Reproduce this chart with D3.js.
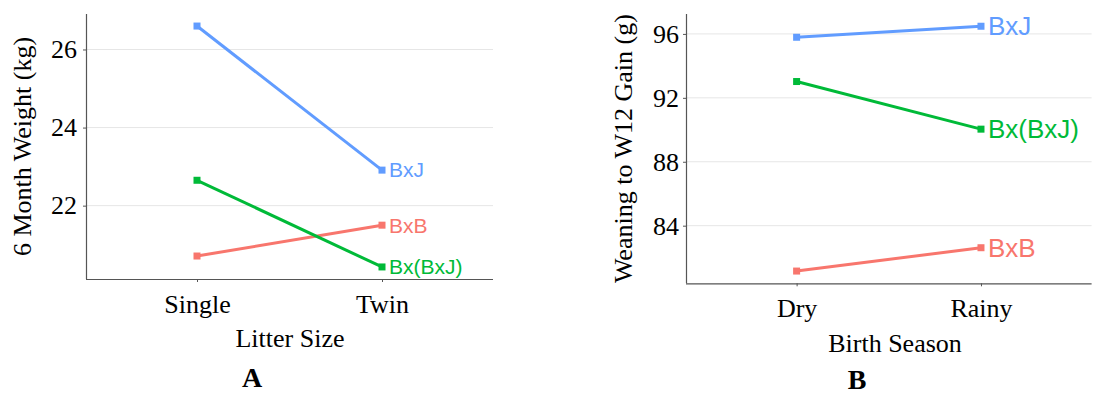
<!DOCTYPE html>
<html>
<head>
<meta charset="utf-8">
<script src="https://cdn.jsdelivr.net/npm/d3@7"></script>
<style>
  html, body { margin: 0; padding: 0; background: #fff; }
  svg { display: block; }
  .tick text { font-family: "Liberation Serif", "Times New Roman", serif; fill: #000; }
  .domain { stroke: #555; stroke-width: 1.2; }
  .tick line { stroke: #555; stroke-width: 1; }
</style>
</head>
<body>
<svg id="chart" width="1093" height="394"></svg>
<script>
// ---------- data ----------
const seriesNames = ["BxB", "Bx(BxJ)", "BxJ"];
const seriesColors = ["#F8766D", "#00BA38", "#619CFF"];

// Panel A: 6 month weight by litter size
const litterCats = ["Single", "Twin"];
const weightBxB = [20.71, 21.50];
const weightBxBxJ = [22.65, 20.43];
const weightBxJ = [26.60, 22.91];
const ticksA = [22, 24, 26];

// Panel B: weaning to W12 gain by birth season
const seasonCats = ["Dry", "Rainy"];
const gainBxB = [81.16, 82.62];
const gainBxBxJ = [93.02, 90.04];
const gainBxJ = [95.79, 96.48];
const ticksB = [84, 88, 92, 96];

const svg = d3.select("#chart");
svg.append("rect").attr("width", 1093).attr("height", 394).attr("fill", "#fff");

function panel(cfg) {
  const g = svg.append("g");
  const allVals = cfg.series.flat();
  const ext = d3.extent(allVals);
  const pad = (ext[1] - ext[0]) * 0.05;
  const y = d3.scaleLinear().domain([ext[0] - pad, ext[1] + pad]).range([cfg.bottom, cfg.top]);
  const x = d3.scalePoint().domain(cfg.cats).range([cfg.left, cfg.right]).padding(0.6);

  // gridlines
  g.selectAll("line.grid").data(cfg.ticks).join("line")
    .attr("class", "grid")
    .attr("x1", cfg.left).attr("x2", cfg.right)
    .attr("y1", d => y(d)).attr("y2", d => y(d))
    .attr("stroke", "#e6e6e6").attr("stroke-width", 1);

  // axes
  const ya = g.append("g").attr("transform", `translate(${cfg.left},0)`)
    .call(d3.axisLeft(y).tickValues(cfg.ticks).tickFormat(d3.format("d"))
      .tickSizeInner(3).tickSizeOuter(0).tickPadding(cfg.ytickPad));
  ya.selectAll(".tick text").attr("font-size", cfg.tickFont);
  ya.select(".domain").attr("d", `M0.5,${cfg.top}V${cfg.bottom}`);

  const xa = g.append("g").attr("transform", `translate(0,${cfg.bottom})`)
    .call(d3.axisBottom(x).tickSizeInner(3).tickSizeOuter(0).tickPadding(6));
  xa.selectAll(".tick text").attr("font-size", cfg.tickFont).attr("dy", "0.95em");
  xa.select(".domain").attr("d", `M${cfg.left},0.5H${cfg.right}`);

  // lines + points + labels
  const line = d3.line().x((d, i) => x(cfg.cats[i])).y(d => y(d));
  cfg.series.forEach((vals, si) => {
    const col = seriesColors[si];
    g.append("path").attr("d", line(vals)).attr("fill", "none")
      .attr("stroke", col).attr("stroke-width", 3);
    g.selectAll(null).data(vals).join("rect")
      .attr("x", (d, i) => x(cfg.cats[i]) - 3.5).attr("y", d => y(d) - 3.5)
      .attr("width", 7).attr("height", 7).attr("fill", col);
    const last = vals.length - 1;
    g.append("text")
      .attr("x", x(cfg.cats[last]) + 7)
      .attr("y", y(vals[last]))
      .attr("dy", "0.35em")
      .attr("font-family", "'Liberation Sans', Arial, sans-serif")
      .attr("font-size", cfg.labelFont)
      .attr("fill", col)
      .text(seriesNames[si]);
  });

  // y title
  g.append("text")
    .attr("transform", `translate(${cfg.ytitleX},${(cfg.top + cfg.bottom) / 2}) rotate(-90)`)
    .attr("text-anchor", "middle")
    .attr("font-family", "'Liberation Serif', 'Times New Roman', serif")
    .attr("font-size", 26)
    .text(cfg.ytitle);

  // x title
  g.append("text")
    .attr("x", cfg.xtitleX).attr("y", cfg.xtitleY)
    .attr("text-anchor", "middle")
    .attr("font-family", "'Liberation Serif', 'Times New Roman', serif")
    .attr("font-size", 26)
    .text(cfg.xtitle);

  // panel letter
  g.append("text")
    .attr("x", cfg.letterX).attr("y", cfg.letterY)
    .attr("text-anchor", "middle")
    .attr("font-family", "'Liberation Serif', 'Times New Roman', serif")
    .attr("font-weight", "bold")
    .attr("font-size", 28)
    .text(cfg.letter);
}

panel({
  cats: litterCats, series: [weightBxB, weightBxBxJ, weightBxJ], ticks: ticksA,
  left: 86, right: 493, top: 14, bottom: 279,
  tickFont: 26, labelFont: 21, ytickPad: 6,
  ytitle: "6 Month Weight (kg)", ytitleX: 31,
  xtitle: "Litter Size", xtitleX: 290, xtitleY: 347,
  letter: "A", letterX: 252, letterY: 387
});

panel({
  cats: seasonCats, series: [gainBxB, gainBxBxJ, gainBxJ], ticks: ticksB,
  left: 686, right: 1091.6, top: 14, bottom: 283.3,
  tickFont: 26, labelFont: 26, ytickPad: 4,
  ytitle: "Weaning to W12 Gain (g)", ytitleX: 632,
  xtitle: "Birth Season", xtitleX: 895, xtitleY: 352,
  letter: "B", letterX: 857, letterY: 389
});
</script>
</body>
</html>
